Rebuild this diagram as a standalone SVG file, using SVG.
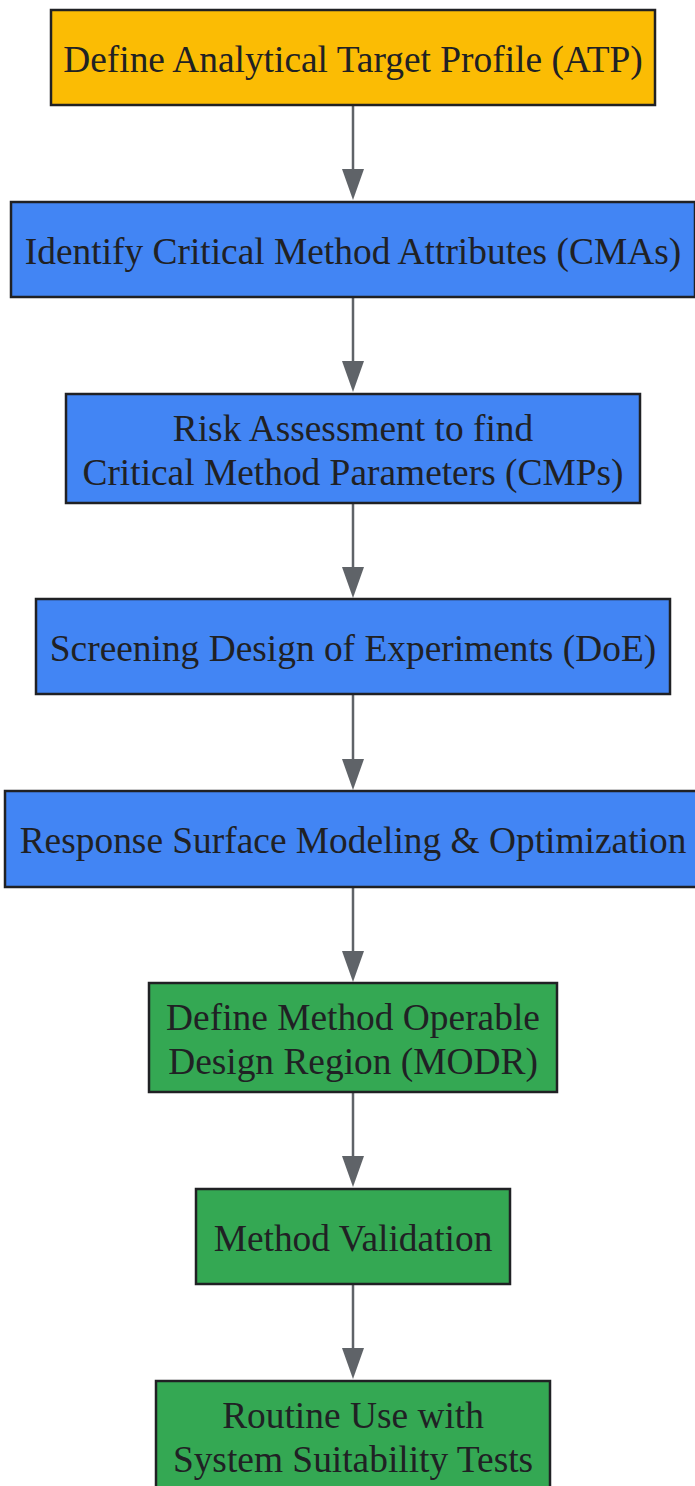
<svg xmlns="http://www.w3.org/2000/svg" width="695" height="1486" viewBox="0 0 695 1486">
<defs>
<style>
.box{stroke:#202124;stroke-width:2.5}
.y{fill:#FBBC04}.b{fill:#4285F4}.g{fill:#34A853}
.t{font-family:"Liberation Serif","Times New Roman",serif;font-size:37.4px;fill:#202124;text-anchor:middle}
.e{stroke:#5F6368;stroke-width:2.5;fill:none}
</style>
<marker id="ah" markerUnits="userSpaceOnUse" viewBox="0 0 31 22" markerWidth="31" markerHeight="22" refX="0" refY="11" orient="auto">
<path d="M0,0 L31,11 L0,22 z" fill="#5F6368"/>
</marker>
</defs>
<rect width="695" height="1486" fill="#ffffff"/>
<g id="connectors">
<path class="e" d="M353,106 V169" marker-end="url(#ah)"/>
<path class="e" d="M353,298 V361" marker-end="url(#ah)"/>
<path class="e" d="M353,504 V567" marker-end="url(#ah)"/>
<path class="e" d="M353,695 V759" marker-end="url(#ah)"/>
<path class="e" d="M353,888 V951" marker-end="url(#ah)"/>
<path class="e" d="M353,1093 V1156" marker-end="url(#ah)"/>
<path class="e" d="M353,1285 V1348" marker-end="url(#ah)"/>
</g>
<g id="atp"><rect class="box y" x="51" y="10" width="604" height="95"/><text class="t" x="353" y="71.5">Define Analytical Target Profile (ATP)</text></g>
<g id="cma"><rect class="box b" x="11" y="202" width="684" height="95"/><text class="t" x="353" y="263.5">Identify Critical Method Attributes (CMAs)</text></g>
<g id="risk"><rect class="box b" x="66" y="394" width="574" height="109"/><text class="t" x="353" y="440.5">Risk Assessment to find</text><text class="t" x="353" y="484.5">Critical Method Parameters (CMPs)</text></g>
<g id="screening"><rect class="box b" x="36" y="599" width="634" height="95"/><text class="t" x="353" y="660.5">Screening Design of Experiments (DoE)</text></g>
<g id="rsm"><rect class="box b" x="5" y="791" width="696" height="96"/><text class="t" x="353" y="853">Response Surface Modeling &amp; Optimization</text></g>
<g id="modr"><rect class="box g" x="149" y="983" width="408" height="109"/><text class="t" x="353" y="1029.5">Define Method Operable</text><text class="t" x="353" y="1073.5">Design Region (MODR)</text></g>
<g id="validation"><rect class="box g" x="196" y="1189" width="314" height="95"/><text class="t" x="353" y="1250.5">Method Validation</text></g>
<g id="routine"><rect class="box g" x="156" y="1381" width="394" height="110"/><text class="t" x="353" y="1428">Routine Use with</text><text class="t" x="353" y="1472">System Suitability Tests</text></g>
</svg>
